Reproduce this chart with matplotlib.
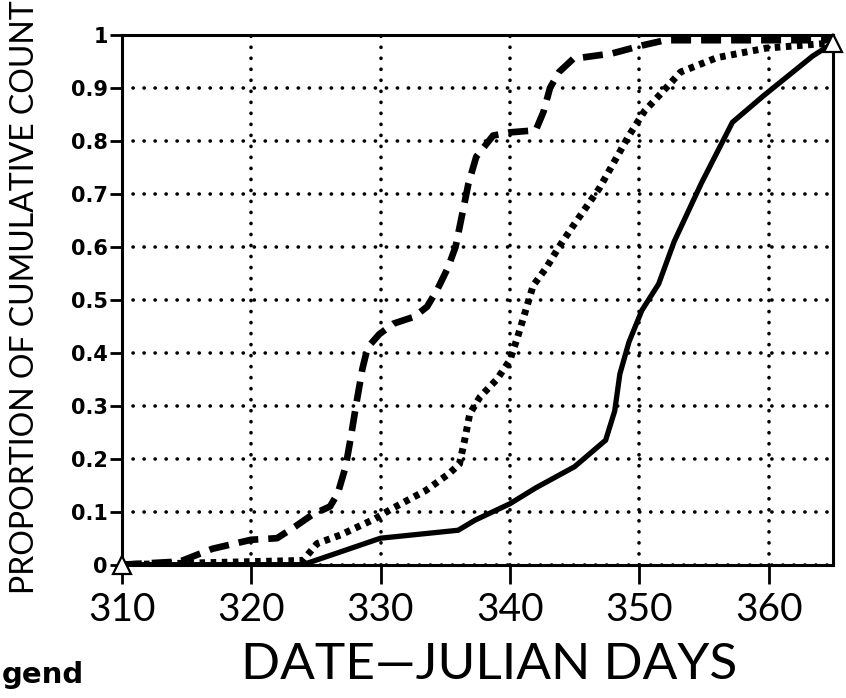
import matplotlib
matplotlib.use("Agg")
import matplotlib.pyplot as plt

# ---- data ----
solid_day = [310, 324, 330, 336, 337.3, 340, 342, 345, 347.4, 348.1, 348.5, 349.2,
             350.2, 351.5, 352.7, 354.8, 357.2, 359.6, 363.4, 365]
solid_y = [0, 0, 0.05, 0.065, 0.084, 0.115, 0.145, 0.185, 0.235, 0.29, 0.36, 0.42,
           0.48, 0.53, 0.61, 0.72, 0.835, 0.885, 0.96, 0.985]

dashed_day = [310, 314.5, 317, 320, 322, 323.4, 324.7, 326.1, 326.7, 327.3, 327.7,
              328.1, 328.6, 329.0, 329.9, 331.0, 332.6, 333.6, 334.4, 335.2, 335.8,
              336.3, 336.8, 337.4, 338.7, 340, 342, 342.6, 343.1, 343.8, 344.9,
              347.9, 350.2, 352, 365]
dashed_y = [0, 0.006, 0.03, 0.047, 0.05, 0.072, 0.094, 0.11, 0.135, 0.185, 0.24,
            0.30, 0.37, 0.41, 0.435, 0.455, 0.468, 0.487, 0.52, 0.56, 0.60,
            0.66, 0.72, 0.77, 0.81, 0.816, 0.82, 0.855, 0.90, 0.93, 0.955,
            0.965, 0.98, 0.99, 0.99]

dotted_day = [310, 324, 325.1, 326.9, 329.6, 330.9, 333.5, 335.3, 336.1, 336.5,
              336.9, 337.7, 339.0, 340, 340.6, 341.8, 342.8, 343.8, 344.9, 346.9,
              349.2, 350.4, 351.7, 353.2, 356, 359.8, 365]
dotted_y = [0, 0.008, 0.04, 0.056, 0.087, 0.106, 0.14, 0.172, 0.19, 0.235,
            0.285, 0.317, 0.35, 0.386, 0.43, 0.527, 0.56, 0.6, 0.64, 0.71,
            0.81, 0.856, 0.89, 0.93, 0.957, 0.975, 0.985]

marker_day = [310, 365]
marker_y = [0, 0.985]

x_ticks = [310, 320, 330, 340, 350, 360]
y_ticks = [0, 0.1, 0.2, 0.3, 0.4, 0.5, 0.6, 0.7, 0.8, 0.9, 1]
y_ticklabels = ["0", "0.1", "0.2", "0.3", "0.4", "0.5", "0.6", "0.7", "0.8", "0.9", "1"]

thin = ["Lato", "DejaVu Sans"]

fig = plt.figure(figsize=(8.46, 6.98), dpi=100)
ax = fig.add_axes([0.144, 0.191, 0.841, 0.759])

ax.set_xlim(310, 365)
ax.set_ylim(0, 1)

# grid
ax.set_xticks(x_ticks)
ax.set_yticks(y_ticks)
ax.grid(True, color="black", linewidth=2.6, linestyle=(0, (0.05, 3.0)),
        dash_capstyle="round")
ax.set_axisbelow(True)

# curves
ax.plot(solid_day, solid_y, color="black", linewidth=3.8, solid_joinstyle="miter",
        zorder=3)
ax.plot(dashed_day, dashed_y, color="black", linewidth=4.8,
        linestyle=(0, (3.0, 1.5)), dash_capstyle="butt", zorder=3)
ax.plot(dotted_day, dotted_y, color="black", linewidth=5.0,
        linestyle=(0, (0.8, 0.8)), dash_capstyle="butt", zorder=3)
ax.plot(marker_day, marker_y, linestyle="none", marker="^", markersize=13,
        markerfacecolor="white", markeredgecolor="black", markeredgewidth=1.6,
        clip_on=False, zorder=4)

for s in ax.spines.values():
    s.set_linewidth(2.2)

ax.tick_params(axis="y", direction="out", length=9, width=2, pad=1)
ax.tick_params(axis="x", direction="out", length=14, width=2, pad=6)

ax.set_yticklabels(y_ticklabels, fontsize=15, fontweight="bold",
                   family="DejaVu Sans")
ax.set_xticklabels([str(v) for v in x_ticks], fontsize=28, family=thin,
                   fontweight="normal")

fig.text(0.030, 0.575, "PROPORTION OF CUMULATIVE COUNT", rotation=90,
         ha="center", va="center", fontsize=23, family=thin, fontweight="normal")
fig.text(0.578, 0.047, "DATE\u2014JULIAN DAYS", ha="center", va="center",
         fontsize=37, family=thin, fontweight="normal")
fig.text(0.002, 0.033, "gend", ha="left", va="center", fontsize=21,
         fontweight="bold", family="DejaVu Sans")

fig.savefig("out.png", dpi=100)
